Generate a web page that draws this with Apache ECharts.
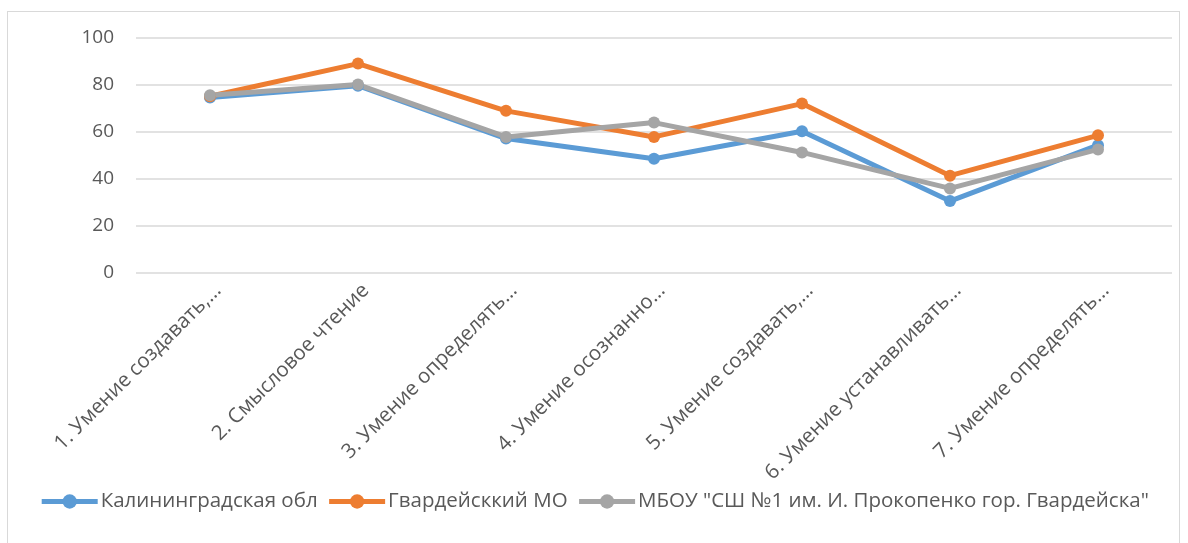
<!DOCTYPE html>
<html><head><meta charset="utf-8">
<script src="https://cdn.jsdelivr.net/npm/echarts@6/dist/echarts.min.js"></script>
<style>
html,body{margin:0;padding:0;background:#fff;}
#frame{position:absolute;left:7px;top:11px;width:1173px;height:540px;border:1px solid #d9d9d9;box-sizing:border-box;}
#c{position:absolute;left:0;top:0;width:1188px;height:543px;}
</style></head>
<body>
<div id="frame"></div>
<div id="c"></div>
<script>
const categories = ["1. Умение создавать,…","2. Смысловое чтение","3. Умение определять…","4. Умение осознанно…","5. Умение создавать,…","6. Умение устанавливать…","7. Умение определять…"];
const seriesNames = ["Калининградская обл","Гвардейсккий МО","МБОУ \"СШ №1 им. И. Прокопенко гор. Гвардейска\""];
const kaliningrad = [74.7, 79.7, 57.2, 48.6, 60.3, 30.6, 54.4];
const gvardeysk = [75.2, 89.1, 69.0, 57.9, 72.1, 41.4, 58.6];
const school = [75.6, 80.2, 57.9, 64.0, 51.3, 36.0, 52.6];
const yTicks = [0, 20, 40, 60, 80, 100];
const colors = ["#5b9bd5","#ed7d31","#a5a5a5"];
const font = "'Open Sans', 'Noto Sans', sans-serif";
const chart = echarts.init(document.getElementById('c'));
const mk = (name, data, color) => ({
  name, type:'line', data, symbol:'circle', symbolSize:12,
  lineStyle:{width:5, color}, itemStyle:{color}, animation:false
});
chart.setOption({
  animation:false,
  color: colors,
  grid:{left:136, right:16, top:38, bottom:270},
  xAxis:{type:'category', data:categories, boundaryGap:true,
    axisLine:{show:false}, axisTick:{show:false},
    axisLabel:{rotate:45, interval:0, color:'#595959', fontSize:20.5, fontFamily:font, margin:22, padding:[0,-11,0,0]}},
  yAxis:{type:'value', min:yTicks[0], max:yTicks[yTicks.length-1], interval:20,
    axisLine:{show:false}, axisTick:{show:false},
    splitLine:{lineStyle:{color:'#d9d9d9', width:1.5}},
    axisLabel:{color:'#595959', fontSize:19, fontFamily:font, margin:22}},
  legend:{top:486, left:'center', itemWidth:56, itemHeight:18, itemGap:9,
    lineStyle:{width:5},
    textStyle:{color:'#595959', fontSize:20.5, fontFamily:font, padding:[0,0,0,-2]},
    data:seriesNames},
  series:[mk(seriesNames[0], kaliningrad, colors[0]), mk(seriesNames[1], gvardeysk, colors[1]), mk(seriesNames[2], school, colors[2])]
});
</script>
</body></html>
